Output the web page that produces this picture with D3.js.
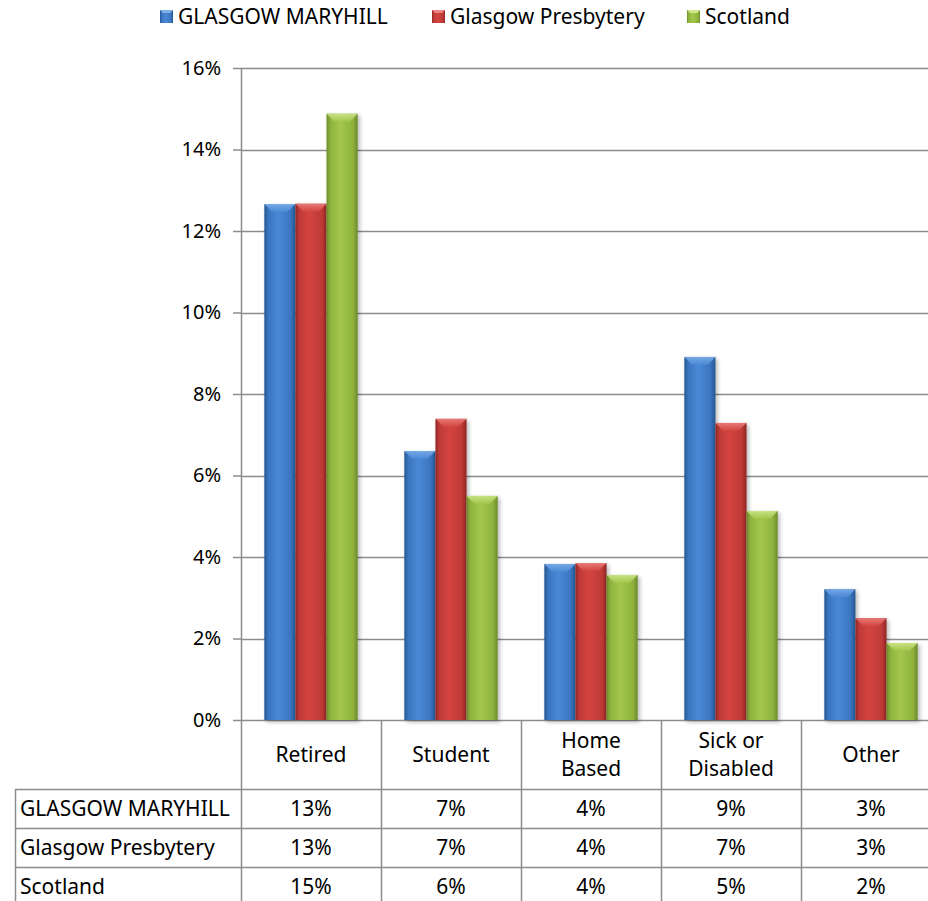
<!DOCTYPE html>
<html>
<head>
<meta charset="utf-8">
<script src="https://cdn.jsdelivr.net/npm/d3@7"></script>
<style>
    body { margin: 0; background: #fff; }
    svg { display: block; }
</style>
</head>
<body>
<div id="chart"></div>
<script>
var categories = ["Retired", "Student", "Home\nBased", "Sick or\nDisabled", "Other"];
var seriesNames = ["GLASGOW MARYHILL", "Glasgow Presbytery", "Scotland"];
var maryhill = [12.66, 6.6, 3.83, 8.91, 3.21];
var presbytery = [12.67, 7.39, 3.85, 7.29, 2.5];
var scotland = [14.88, 5.5, 3.56, 5.13, 1.89];
var yTicks = [0, 2, 4, 6, 8, 10, 12, 14, 16];

var width = 928, height = 901;
var margin = {top: 68, left: 241, bottom: 720};
var colWidth = 140;
var rowLines = [789, 828, 867];
var gridColor = "#8c8c8c";
var font = "'Noto Sans', sans-serif";
var fontSize = "21px";

// colour sets: dark edge, mid, light centre, bevel top
var palettes = [
    {dark: "#25548f", mid: "#3a74be", light: "#4a88d6", top: "#7fb0ea"},
    {dark: "#8f2624", mid: "#bd3a37", light: "#d4443f", top: "#ec8481"},
    {dark: "#6a8a2a", mid: "#8fb23e", light: "#a3c64c", top: "#d0e98e"}
];

var data = [maryhill, presbytery, scotland];

var svg = d3.select("#chart")
    .append("svg")
    .attr("width", width)
    .attr("height", height);

var defs = svg.append("defs");

palettes.forEach(function (p, i) {
    var g = defs.append("linearGradient")
        .attr("id", "body" + i)
        .attr("x1", "0").attr("x2", "1").attr("y1", "0").attr("y2", "0");
    g.append("stop").attr("offset", "0%").attr("stop-color", p.dark);
    g.append("stop").attr("offset", "12%").attr("stop-color", p.mid);
    g.append("stop").attr("offset", "45%").attr("stop-color", p.light);
    g.append("stop").attr("offset", "85%").attr("stop-color", p.mid);
    g.append("stop").attr("offset", "100%").attr("stop-color", p.dark);

    var t = defs.append("linearGradient")
        .attr("id", "top" + i)
        .attr("x1", "0").attr("x2", "0").attr("y1", "0").attr("y2", "1");
    t.append("stop").attr("offset", "0%").attr("stop-color", p.top);
    t.append("stop").attr("offset", "100%").attr("stop-color", p.light);
});

var shadow = defs.append("filter")
    .attr("id", "shadow")
    .attr("x", "-20%").attr("y", "-5%")
    .attr("width", "150%").attr("height", "120%");
shadow.append("feGaussianBlur").attr("in", "SourceAlpha").attr("stdDeviation", 2);
shadow.append("feOffset").attr("dx", 2).attr("dy", 2).attr("result", "off");
shadow.append("feComponentTransfer").append("feFuncA").attr("type", "linear").attr("slope", 0.3);
var merge = shadow.append("feMerge");
merge.append("feMergeNode");
merge.append("feMergeNode").attr("in", "SourceGraphic");

var x0 = d3.scaleBand()
    .domain(categories)
    .range([margin.left, margin.left + colWidth * categories.length])
    .paddingInner(0).paddingOuter(0);

var x1 = d3.scaleBand()
    .domain(seriesNames)
    .range([0, x0.bandwidth()])
    .paddingInner(0).paddingOuter(0.75);

var y = d3.scaleLinear()
    .domain([0, 16])
    .range([margin.bottom, margin.top]);

// gridlines + y axis
var yAxis = svg.append("g")
    .attr("transform", "translate(" + margin.left + ",0)")
    .call(d3.axisLeft(y)
        .tickValues(yTicks)
        .tickSize(8)
        .tickPadding(12)
        .tickFormat(function (d) { return d + "%"; }));

yAxis.select(".domain").remove();
yAxis.selectAll("line").attr("stroke", gridColor).attr("stroke-width", 1.5);
yAxis.selectAll("text")
    .style("font-size", "20px")
    .style("font-family", font)
    .attr("fill", "#000");

svg.append("g")
    .selectAll("line")
    .data(yTicks)
    .enter().append("line")
    .attr("x1", margin.left)
    .attr("x2", width)
    .attr("y1", function (d) { return Math.round(y(d)) + 0.5; })
    .attr("y2", function (d) { return Math.round(y(d)) + 0.5; })
    .attr("stroke", gridColor)
    .attr("stroke-width", 1.5);

// bars
var groups = svg.append("g")
    .selectAll("g")
    .data(categories)
    .enter().append("g")
    .attr("transform", function (d) { return "translate(" + x0(d) + ",0)"; });

var bars = groups.selectAll("g.bar")
    .data(function (d, ci) {
        return seriesNames.map(function (s, si) {
            return {series: s, si: si, value: data[si][ci]};
        });
    })
    .enter().append("g")
    .attr("class", "bar")
    .attr("filter", "url(#shadow)");

bars.append("rect")
    .attr("x", function (d) { return x1(d.series); })
    .attr("y", function (d) { return y(d.value); })
    .attr("width", x1.bandwidth())
    .attr("height", function (d) { return y(0) - y(d.value); })
    .attr("fill", function (d) { return "url(#body" + d.si + ")"; });

// bevelled top
bars.append("path")
    .attr("d", function (d) {
        var a = x1(d.series), b = a + x1.bandwidth(), t = y(d.value), bv = 8;
        return "M" + a + "," + t + "H" + b + "L" + (b - bv) + "," + (t + bv) +
            "H" + (a + bv) + "Z";
    })
    .attr("fill", function (d) { return "url(#top" + d.si + ")"; })
    .attr("opacity", 0.85);

// axis line through the table
svg.append("line")
    .attr("x1", margin.left + 0.5).attr("x2", margin.left + 0.5)
    .attr("y1", margin.top).attr("y2", height)
    .attr("stroke", gridColor).attr("stroke-width", 1.5);

// data table
var table = svg.append("g");

table.selectAll("line.col")
    .data(categories.slice(1))
    .enter().append("line")
    .attr("x1", function (d) { return x0(d) + 0.5; })
    .attr("x2", function (d) { return x0(d) + 0.5; })
    .attr("y1", margin.bottom)
    .attr("y2", height)
    .attr("stroke", gridColor).attr("stroke-width", 1.5);

table.selectAll("line.row")
    .data(rowLines)
    .enter().append("line")
    .attr("x1", 15)
    .attr("x2", width)
    .attr("y1", function (d) { return d + 0.5; })
    .attr("y2", function (d) { return d + 0.5; })
    .attr("stroke", gridColor).attr("stroke-width", 1.5);

table.append("line")
    .attr("x1", 15.5).attr("x2", 15.5)
    .attr("y1", rowLines[0]).attr("y2", height)
    .attr("stroke", gridColor).attr("stroke-width", 1.5);

// category headers
table.selectAll("text.cat")
    .data(categories)
    .enter().append("text")
    .attr("x", function (d) { return x0(d) + x0.bandwidth() / 2; })
    .attr("y", function (d) {
        var n = d.split("\n").length;
        return (margin.bottom + rowLines[0]) / 2 - (n - 1) * 14;
    })
    .attr("text-anchor", "middle")
    .style("font-size", fontSize)
    .style("font-family", font)
    .each(function (d) {
        var el = d3.select(this);
        d.split("\n").forEach(function (line, i) {
            el.append("tspan")
                .attr("x", el.attr("x"))
                .attr("dy", i == 0 ? "0.35em" : 28)
                .text(line);
        });
    });

// series rows
seriesNames.forEach(function (s, si) {
    var cy = rowLines[si] + 19.5;
    table.append("text")
        .attr("x", 20)
        .attr("y", cy)
        .attr("dy", "0.35em")
        .style("font-size", fontSize)
        .style("font-family", font)
        .text(s);

    table.selectAll("text.v" + si)
        .data(categories)
        .enter().append("text")
        .attr("x", function (d) { return x0(d) + x0.bandwidth() / 2; })
        .attr("y", cy)
        .attr("dy", "0.35em")
        .attr("text-anchor", "middle")
        .style("font-size", fontSize)
        .style("font-family", font)
        .text(function (d, ci) { return Math.round(data[si][ci]) + "%"; });
});

// legend
var legendX = [160, 432, 687];
var legend = svg.append("g")
    .selectAll("g")
    .data(seriesNames)
    .enter().append("g")
    .attr("transform", function (d, i) { return "translate(" + legendX[i] + ",10)"; });

legend.append("rect")
    .attr("width", 13).attr("height", 13)
    .attr("fill", function (d, i) { return "url(#body" + i + ")"; });

legend.append("path")
    .attr("d", "M0,0H13L10,3H3Z")
    .attr("fill", function (d, i) { return palettes[i].top; });

legend.append("text")
    .attr("x", 18)
    .attr("y", 7)
    .attr("dy", "0.35em")
    .style("font-size", fontSize)
    .style("font-family", font)
    .text(function (d) { return d; });
</script>
</body>
</html>
